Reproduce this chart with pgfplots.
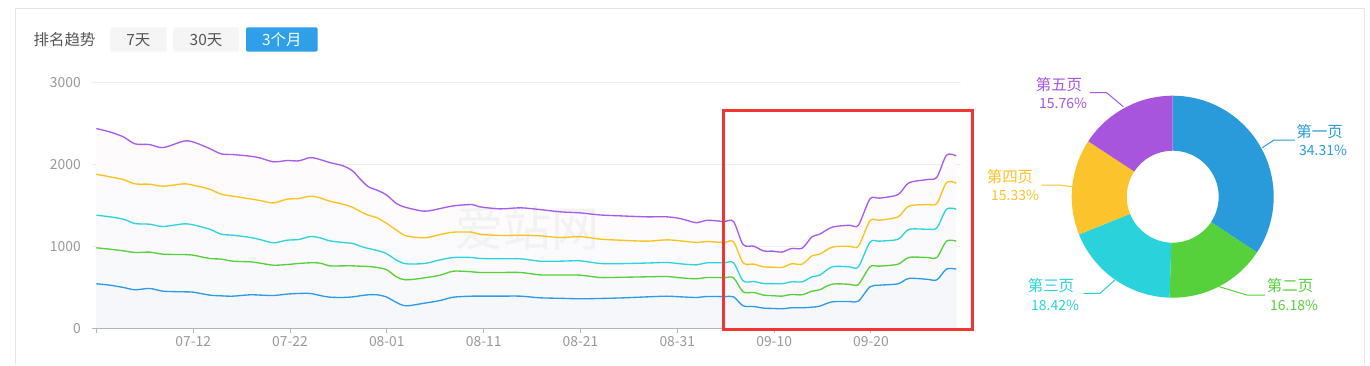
\documentclass[border=0pt]{standalone}
\usepackage{fontspec}
\setmainfont{Noto Sans CJK SC}
\usepackage{pgfplots}
\pgfplotsset{compat=1.18}
\usepackage{pgfplotstable}

\definecolor{lBlue}{HTML}{2D9CE6}
\definecolor{lGreen}{HTML}{58D03C}
\definecolor{lCyan}{HTML}{2DD3DF}
\definecolor{lYellow}{HTML}{FFC21C}
\definecolor{lPurple}{HTML}{A95BEA}
\definecolor{fPurple}{HTML}{FDFBFC}
\definecolor{fYellow}{HTML}{FBFAFC}
\definecolor{fCyan}{HTML}{FAFAFC}
\definecolor{fGreen}{HTML}{F8F9FB}
\definecolor{fBlue}{HTML}{F5F7FA}
\definecolor{p1}{HTML}{2A9BDA}
\definecolor{p2}{HTML}{56D13B}
\definecolor{p3}{HTML}{2AD2DB}
\definecolor{p4}{HTML}{FBC32C}
\definecolor{p5}{HTML}{A855DD}
\definecolor{axisgray}{HTML}{B4B4B4}
\definecolor{gridgray}{HTML}{EEEEEE}
\definecolor{tickgray}{HTML}{999999}
\definecolor{panelgray}{HTML}{E4E4E4}
\definecolor{btngray}{HTML}{F5F5F5}
\definecolor{btnblue}{HTML}{2E9FE8}
\definecolor{boxred}{HTML}{F03535}
\definecolor{txtgray}{HTML}{555555}

\pgfplotstableread{
x    blue green cyan yellow purple
0.0  545  984  1382 1882  2439
1.4  528  967  1362 1850  2398
2.8  500  947  1333 1817  2337
4.0  472  927  1280 1764  2252
5.5  488  931  1272 1760  2244
6.9  455  906  1244 1736  2207
9.0  447  902  1276 1764  2285
10.0 443  894  1264 1748  2276
11.7 407  854  1211 1699  2195
12.9 398  846  1150 1638  2130
14.1 394  821  1138 1614  2122
15.9 411  813  1110 1581  2102
16.9 407  797  1085 1561  2081
18.3 402  772  1045 1532  2033
19.7 419  780  1077 1577  2049
20.9 427  793  1085 1585  2045
22.1 427  801  1122 1614  2085
23.1 402  797  1106 1594  2061
24.1 382  764  1069 1553  2024
25.5 378  764  1049 1516  1984
26.5 386  764  1037 1476  1919
27.2 398  760  1006 1430  1829
28.1 411  756  976  1382  1728
29.0 411  744  951  1350  1687
30.0 382  715  911  1280  1626
31.0 317  630  833  1199  1524
32.0 276  593  789  1130  1476
33.9 309  618  793  1106  1431
35.5 341  650  837  1146  1463
36.9 382  699  866  1175  1496
38.8 394  691  866  1175  1512
39.6 394  683  854  1150  1484
41.7 394  683  850  1134  1459
43.8 394  683  850  1138  1472
45.8 374  654  821  1130  1451
47.9 368  652  821  1110  1423
50.0 362  650  825  1120  1410
52.0 366  622  793  1090  1385
54.1 372  624  791  1077  1374
56.8 385  630  798  1065  1362
58.9 394  634  805  1081  1362
60.3 386  618  789  1069  1341
62.0 378  606  776  1049  1289
63.0 390  622  801  1061  1321
64.8 388  620  801  1049  1305
65.8 386  618  801  1057  1305
66.8 276  447  581  801   1024
67.9 268  439  573  785   1004
68.9 248  407  549  752   947
69.9 244  400  547  748   943
70.8 240  394  545  744   931
71.8 252  415  569  789   976
72.9 252  411  569  785   980
73.9 260  455  630  886   1118
74.7 272  472  650  906   1150
76.0 325  541  752  992   1236
77.8 329  539  752  1004  1260
78.7 333  537  752  1004  1260
79.9 508  752  1053 1313  1581
80.9 528  760  1065 1321  1590
82.8 545  785  1089 1362  1634
83.9 610  866  1207 1492  1776
85.8 600  866  1211 1512  1817
86.8 593  866  1228 1524  1845
87.8 724  1065 1455 1780  2114
88.8 724  1065 1455 1772  2106
}\ranks

\begin{document}
\begin{tikzpicture}[x=0.75pt,y=0.75pt]
\fill[white] (0,0) rectangle (1370,365);
% panel borders
\draw[panelgray, line width=0.75pt] (15.7,0) -- (15.7,356.5) -- (1364,356.5) -- (1364,0);
% header
\node[font=\fontsize{11.6}{14}\selectfont, text=txtgray] at (64.5,325) {排名趋势};
\fill[btngray, rounded corners=1.5pt] (110,313.3) rectangle (166.7,337.7);
\fill[btngray, rounded corners=1.5pt] (173,313.3) rectangle (239,337.7);
\fill[btnblue, rounded corners=1.5pt] (246,313.3) rectangle (317.7,337.7);
\node[font=\fontsize{11.6}{14}\selectfont, text=txtgray] at (138.3,325) {7天};
\node[font=\fontsize{11.6}{14}\selectfont, text=txtgray] at (206,325) {30天};
\node[font=\fontsize{11.6}{14}\selectfont, text=white] at (281.8,325) {3个月};

\begin{axis}[
  at={(94.7,44.6)}, anchor=south west,
  scale only axis, width=652pt, height=184.4pt,
  xmin=-0.48, xmax=89.3, ymin=0, ymax=3000,
  axis line style={draw=none},
  xtick pos=left, ytick pos=left,
  xtick={0,10,...,80},
  xticklabels={,07-12,07-22,08-01,08-11,08-21,08-31,09-10,09-20},
  ytick={0,1000,2000,3000},
  tick align=outside, major tick length=3.75pt,
  xtick style={draw=axisgray, line width=0.75pt},
  ytick style={draw=none},
  ymajorgrids, grid style={draw=gridgray, line width=0.9pt},
  tick label style={font=\fontsize{10.4}{12}\selectfont, text=tickgray},
  /pgf/number format/assume math mode=true,
  /pgf/number format/1000 sep={},
  xticklabel style={anchor=north, inner sep=0pt, yshift=-2pt},
  yticklabel style={anchor=east, inner sep=0pt, xshift=-4.25pt},
  clip=false,
]
\addplot[fill=fPurple, draw=none, smooth] table[x=x,y=purple]{\ranks} \closedcycle;
\addplot[fill=fYellow, draw=none, smooth] table[x=x,y=yellow]{\ranks} \closedcycle;
\addplot[fill=fCyan, draw=none, smooth] table[x=x,y=cyan]{\ranks} \closedcycle;
\addplot[fill=fGreen, draw=none, smooth] table[x=x,y=green]{\ranks} \closedcycle;
\addplot[fill=fBlue, draw=none, smooth] table[x=x,y=blue]{\ranks} \closedcycle;
\node[font=\fontsize{36}{36}\selectfont, text=black!5] at (axis cs:44.5,1228) {爱站网};
\addplot[lBlue, line width=1pt, smooth] table[x=x,y=blue]{\ranks};
\addplot[lGreen, line width=1pt, smooth] table[x=x,y=green]{\ranks};
\addplot[lCyan, line width=1pt, smooth] table[x=x,y=cyan]{\ranks};
\addplot[lYellow, line width=1pt, smooth] table[x=x,y=yellow]{\ranks};
\addplot[lPurple, line width=1pt, smooth] table[x=x,y=purple]{\ranks};
\draw[axisgray, line width=1.1pt] (axis cs:-0.48,0) -- (axis cs:89.3,0);
\end{axis}

% highlight box
\draw[boxred, line width=2.25pt] (723.3,35.7) rectangle (972.7,254.3);

% donut
\begin{scope}[shift={(1172.7,168.3)}]
\gdef\acur{90}
\foreach \v/\c in {34.31/p1,16.18/p2,18.42/p3,15.33/p4,15.76/p5}{
  \pgfmathsetmacro\anext{\acur-3.6*\v}
  \fill[\c] (\acur:101) arc[start angle=\acur,end angle=\anext,radius=101]
     -- (\anext:46) arc[start angle=\anext,end angle=\acur,radius=46] -- cycle;
  \xdef\acur{\anext}
}
\end{scope}
% leaders
\draw[p1, line width=0.75pt] (1262.3,217.3) -- (1274,225) -- (1295,225);
\draw[p2, line width=0.75pt] (1219.3,78.3) -- (1246.7,70) -- (1265,70);
\draw[p3, line width=0.75pt] (1115,85) -- (1100,71.7) -- (1083.3,71.7);
\draw[p4, line width=0.75pt] (1071.7,178.3) -- (1060,180) -- (1041.7,180);
\draw[p5, line width=0.75pt] (1123.3,258.3) -- (1106.7,272.3) -- (1090,272.3);
% labels
\begin{scope}[every node/.style={inner sep=0pt}]
\node[font=\fontsize{11.6}{14}\selectfont, text=p1] at (1319.6,233.3) {第一页};
\node[font=\fontsize{10.5}{13}\selectfont, text=p1] at (1323,214.3) {34.31\%};
\node[font=\fontsize{11.6}{14}\selectfont, text=p2] at (1290,79) {第二页};
\node[font=\fontsize{10.5}{13}\selectfont, text=p2] at (1294,60) {16.18\%};
\node[font=\fontsize{11.6}{14}\selectfont, text=p3] at (1051,79) {第三页};
\node[font=\fontsize{10.5}{13}\selectfont, text=p3] at (1055,60) {18.42\%};
\node[font=\fontsize{11.6}{14}\selectfont, text=p4] at (1010,188.3) {第四页};
\node[font=\fontsize{10.5}{13}\selectfont, text=p4] at (1015,169.3) {15.33\%};
\node[font=\fontsize{11.6}{14}\selectfont, text=p5] at (1059,280.7) {第五页};
\node[font=\fontsize{10.5}{13}\selectfont, text=p5] at (1063,261.7) {15.76\%};
\end{scope}
\pgfresetboundingbox
\path[use as bounding box] (0,0) rectangle (1370,365);
\end{tikzpicture}
\end{document}
